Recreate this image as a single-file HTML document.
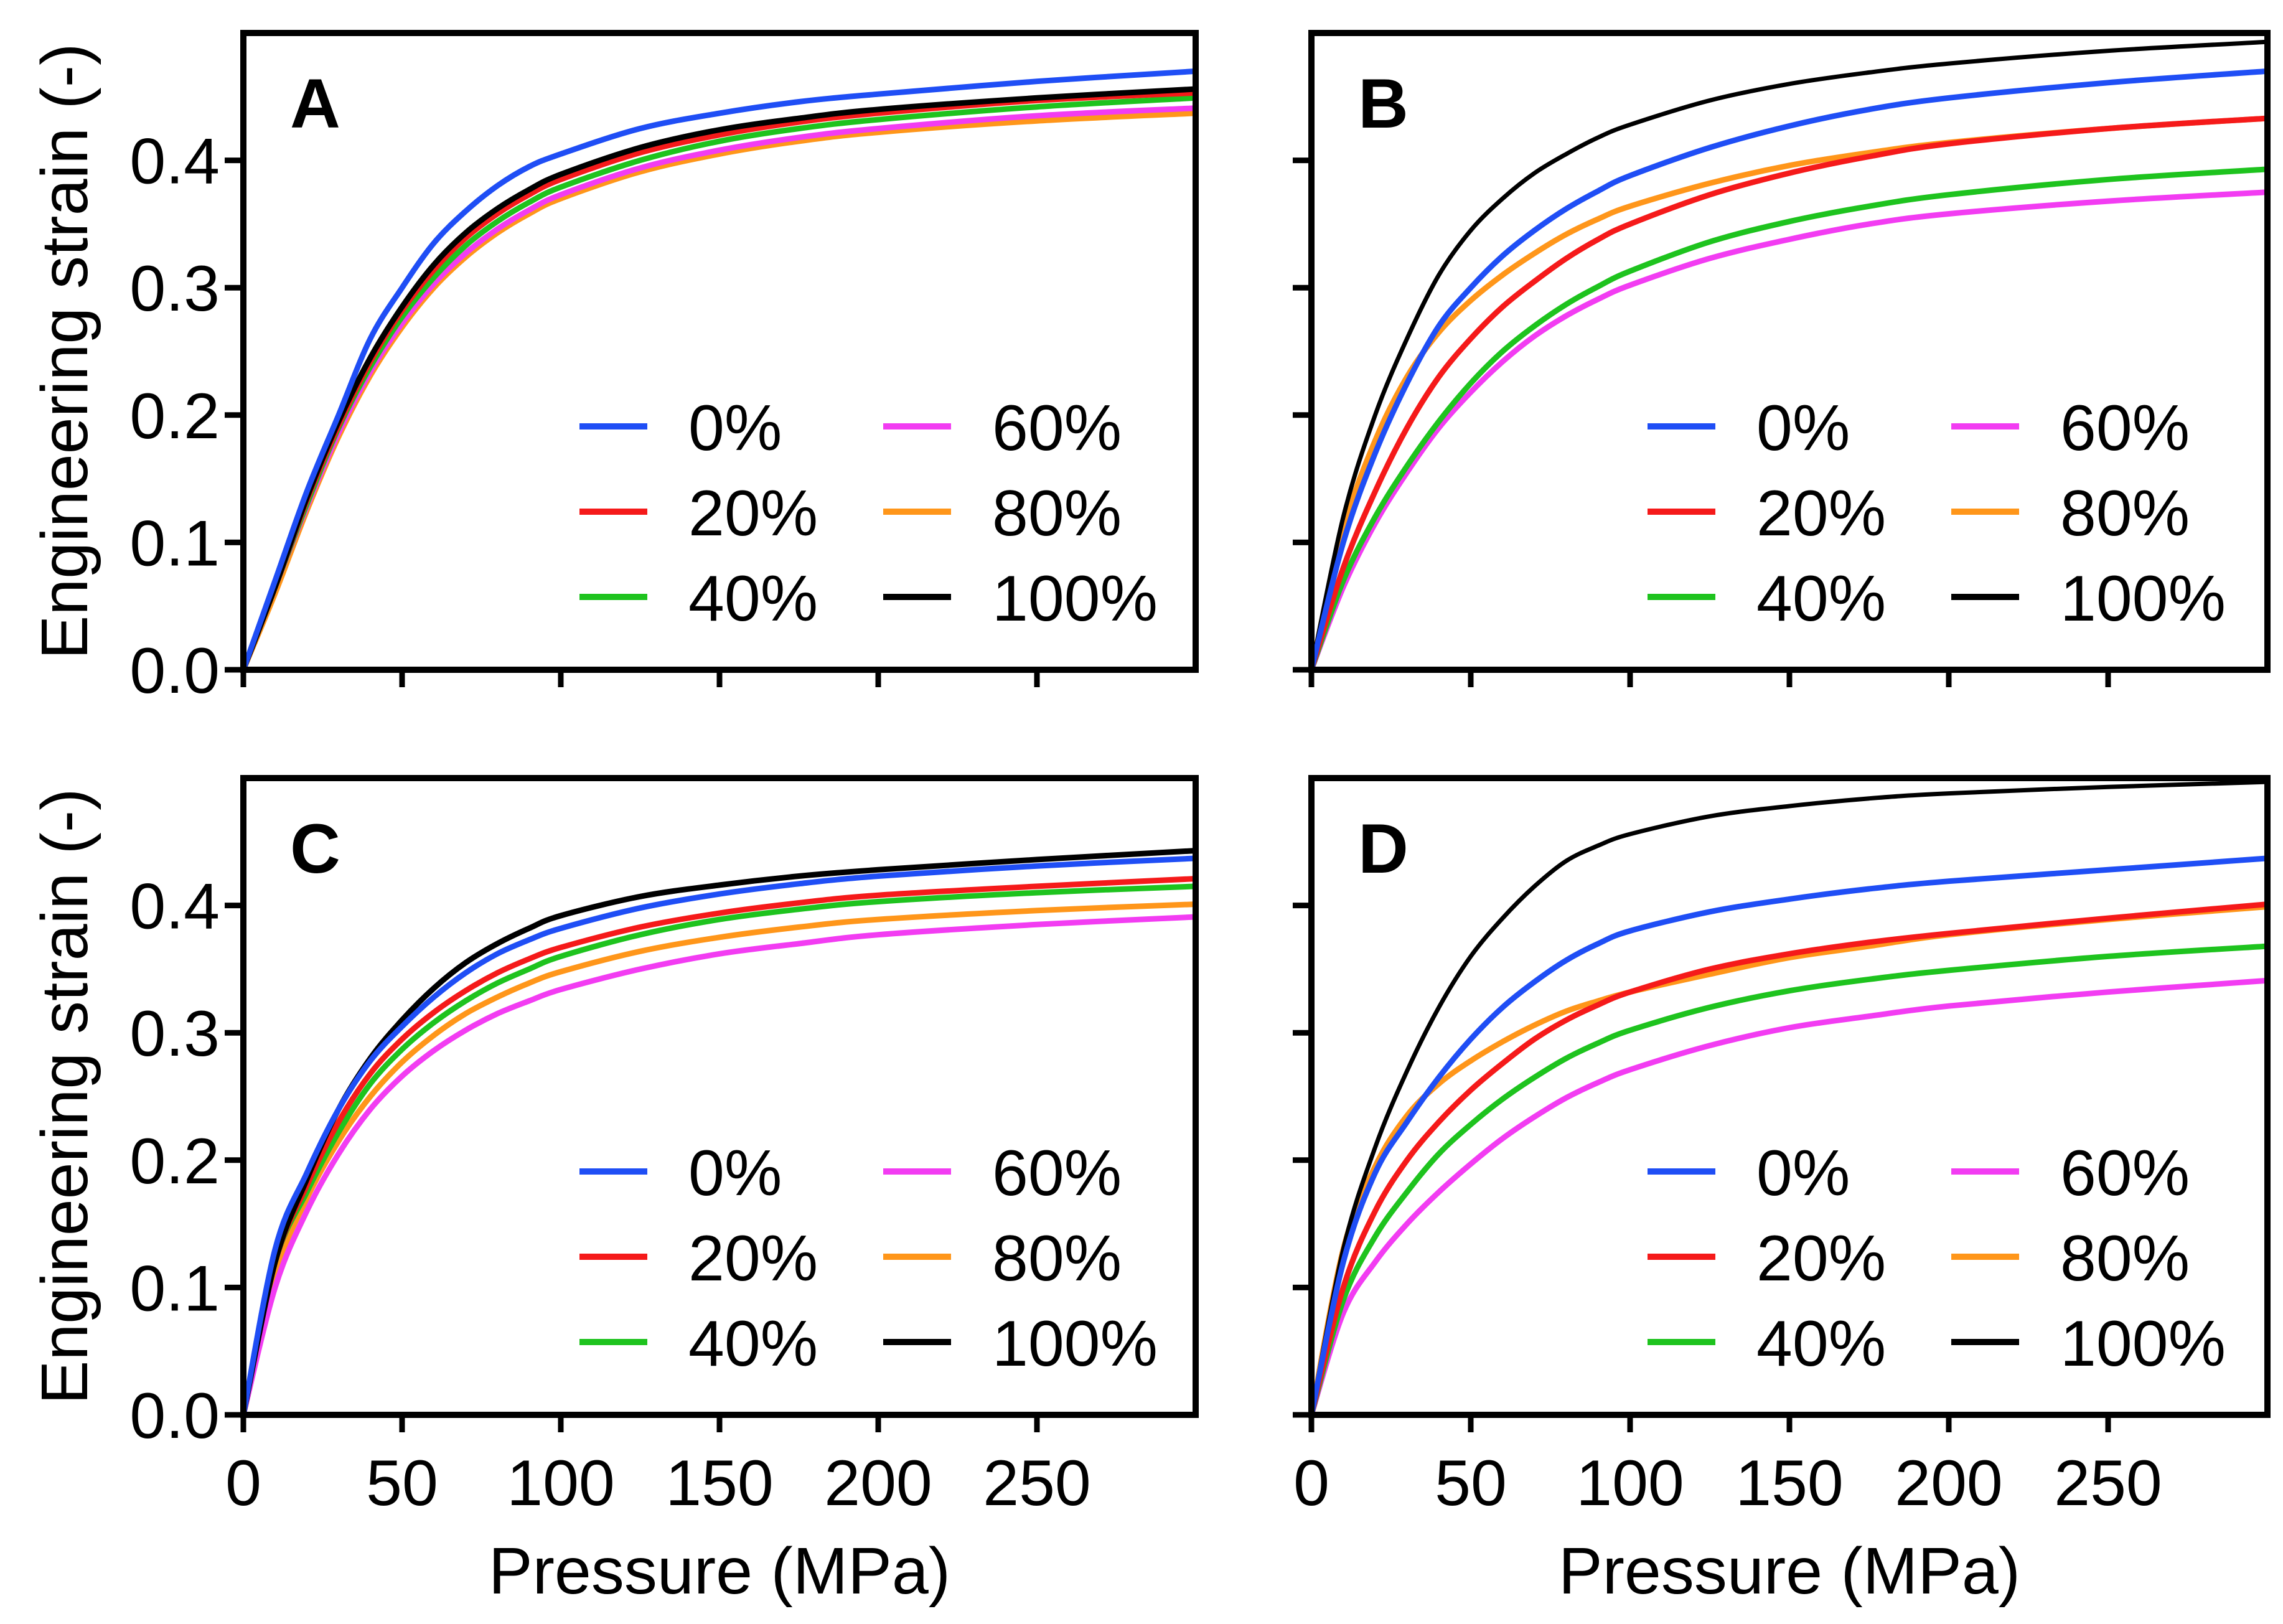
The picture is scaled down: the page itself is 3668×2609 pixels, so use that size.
<!DOCTYPE html>
<html><head><meta charset="utf-8">
<style>html,body{margin:0;padding:0;background:#fff}svg{display:block}</style>
</head><body>
<svg id="fig" width="3668" height="2609" xmlns="http://www.w3.org/2000/svg" font-family="Liberation Sans, Arial, sans-serif"></svg>
<script>
const pressures = [0,10,20,30,40,50,60,70,80,90,100,125,150,175,200,250,300];
const seriesNames = ['0%','20%','40%','60%','80%','100%'];
const seriesColors = ['#1f4ef5','#f51a1a','#1ec31e','#f23cf2','#ff961a','#000000'];
const xTicks = [0,50,100,150,200,250];
const yTicks = [0.0,0.1,0.2,0.3,0.4];
const yTickLabels = ['0.0','0.1','0.2','0.3','0.4'];
const panelLetters = ['A','B','C','D'];
// values per panel, order: 0%,20%,40%,60%,80%,100%
const panelA_0 = [0,.07,.14,.20,.26,.30,.335,.36,.38,.395,.405,.425,.437,.446,.452,.462,.470];
const panelA_20 = [0,.065,.133,.192,.242,.282,.314,.339,.358,.373,.385,.406,.420,.430,.437,.447,.453];
const panelA_40 = [0,.065,.13,.19,.238,.277,.308,.333,.352,.367,.379,.400,.415,.425,.432,.442,.449];
const panelA_60 = [0,.065,.128,.186,.234,.272,.303,.327,.346,.361,.373,.394,.408,.418,.425,.435,.441];
const panelA_80 = [0,.06,.125,.183,.231,.269,.300,.324,.343,.358,.370,.391,.405,.415,.422,.431,.437];
const panelA_100 = [0,.065,.135,.195,.245,.285,.318,.343,.362,.377,.389,.410,.424,.433,.440,.449,.456];
const panelB_0 = [0,.10,.17,.225,.27,.30,.325,.345,.362,.376,.388,.41,.427,.44,.449,.461,.470];
const panelB_20 = [0,.08,.14,.19,.23,.26,.285,.305,.323,.338,.350,.373,.390,.403,.413,.425,.433];
const panelB_40 = [0,.07,.12,.16,.195,.225,.25,.27,.287,.301,.313,.336,.352,.364,.373,.385,.393];
const panelB_60 = [0,.065,.115,.155,.19,.218,.242,.262,.278,.291,.302,.323,.338,.350,.358,.368,.375];
const panelB_80 = [0,.11,.18,.23,.265,.29,.31,.327,.342,.354,.364,.382,.396,.406,.414,.425,.433];
const panelB_100 = [0,.12,.2,.26,.31,.345,.37,.39,.405,.418,.428,.447,.46,.469,.476,.486,.493];
const panelC_0 = [0,.13,.19,.24,.278,.305,.328,.347,.362,.373,.382,.398,.409,.417,.423,.431,.437];
const panelC_20 = [0,.12,.18,.23,.268,.295,.316,.333,.347,.358,.367,.383,.394,.402,.408,.415,.421];
const panelC_40 = [0,.12,.175,.222,.26,.287,.308,.325,.339,.35,.36,.377,.389,.397,.403,.410,.415];
const panelC_60 = [0,.10,.16,.205,.24,.266,.286,.302,.315,.325,.334,.350,.362,.370,.377,.385,.391];
const panelC_80 = [0,.11,.17,.215,.25,.277,.298,.315,.328,.339,.348,.364,.375,.383,.389,.396,.401];
const panelC_100 = [0,.12,.185,.24,.28,.31,.335,.355,.37,.382,.392,.407,.416,.423,.428,.436,.443];
const panelD_0 = [0,.12,.19,.23,.265,.295,.32,.34,.357,.37,.38,.395,.405,.413,.419,.428,.437];
const panelD_20 = [0,.10,.16,.2,.23,.255,.276,.295,.31,.322,.332,.35,.362,.371,.378,.39,.401];
const panelD_40 = [0,.09,.14,.175,.205,.228,.248,.265,.28,.292,.302,.32,.333,.342,.349,.36,.368];
const panelD_60 = [0,.08,.12,.15,.175,.197,.217,.234,.249,.261,.271,.29,.304,.313,.321,.332,.341];
const panelD_80 = [0,.13,.195,.235,.26,.278,.293,.306,.317,.325,.332,.346,.359,.368,.377,.389,.399];
const panelD_100 = [0,.13,.21,.27,.32,.36,.39,.415,.435,.447,.456,.47,.478,.484,.488,.493,.497];

const panelData = [
  [panelA_0,panelA_20,panelA_40,panelA_60,panelA_80,panelA_100],
  [panelB_0,panelB_20,panelB_40,panelB_60,panelB_80,panelB_100],
  [panelC_0,panelC_20,panelC_40,panelC_60,panelC_80,panelC_100],
  [panelD_0,panelD_20,panelD_40,panelD_60,panelD_80,panelD_100]
];
const boxes = [
  {l:391,r:1921,t:53,b:1076,ylab:true,xlab:false},
  {l:2107,r:3643,t:53,b:1076,ylab:false,xlab:false},
  {l:391,r:1921,t:1250,b:2273,ylab:true,xlab:true},
  {l:2107,r:3643,t:1250,b:2273,ylab:false,xlab:true}
];
const NS='http://www.w3.org/2000/svg';
const svg=document.getElementById('fig');
function mk(tag,attrs,parent){const e=document.createElementNS(NS,tag);for(const k in attrs)e.setAttribute(k,attrs[k]);(parent||svg).appendChild(e);return e;}
function smoothPath(pts){
  let d='M'+pts[0][0].toFixed(1)+','+pts[0][1].toFixed(1);
  for(let i=0;i<pts.length-1;i++){
    const p0=pts[Math.max(0,i-1)],p1=pts[i],p2=pts[i+1],p3=pts[Math.min(pts.length-1,i+2)];
    const c1x=p1[0]+(p2[0]-p0[0])/6,c1y=p1[1]+(p2[1]-p0[1])/6;
    const c2x=p2[0]-(p3[0]-p1[0])/6,c2y=p2[1]-(p3[1]-p1[1])/6;
    d+='C'+c1x.toFixed(1)+','+c1y.toFixed(1)+' '+c2x.toFixed(1)+','+c2y.toFixed(1)+' '+p2[0].toFixed(1)+','+p2[1].toFixed(1);
  }
  return d;
}
const drawOrder=[4,3,2,1,5,0];
boxes.forEach((bx,pi)=>{
  const g=mk('g',{});
  
  
  const xs=v=>bx.l+(v/300)*(bx.r-bx.l);
  const ys=v=>bx.b-(v/0.5)*(bx.b-bx.t);
  const cp=mk('clipPath',{id:'cp'+pi},g);
  mk('rect',{x:bx.l,y:bx.t,width:bx.r-bx.l,height:bx.b-bx.t},cp);
  const lines=mk('g',{'clip-path':'url(#cp'+pi+')'},g);
  drawOrder.forEach(si=>{
    const vals=panelData[pi][si];
    const pts=vals.map((v,i)=>[xs(pressures[i]),ys(v)]);
    const p=mk('path',{d:smoothPath(pts),fill:'none',stroke:seriesColors[si],'stroke-width':si===5&&pi%2===1?7:9,'stroke-linejoin':'round'},lines);
    
    
  });
  const fr=mk('rect',{x:bx.l,y:bx.t,width:bx.r-bx.l,height:bx.b-bx.t,fill:'none',stroke:'#000','stroke-width':10},g);
  
  
  yTicks.forEach((v,i)=>{
    mk('line',{x1:bx.l-30,x2:bx.l,y1:ys(v),y2:ys(v),stroke:'#000','stroke-width':9},g);
    if(bx.ylab){const t=mk('text',{x:bx.l-38,y:ys(v)+37,'text-anchor':'end','font-size':104},g);t.textContent=yTickLabels[i];
      
      }
  });
  xTicks.forEach(v=>{
    mk('line',{x1:xs(v),x2:xs(v),y1:bx.b,y2:bx.b+28,stroke:'#000','stroke-width':9},g);
    if(bx.xlab){const t=mk('text',{x:xs(v),y:bx.b+145,'text-anchor':'middle','font-size':104},g);t.textContent=String(v);
      
      }
  });
  const L=mk('text',{x:bx.l+75,y:bx.t+152,'font-size':112,'font-weight':'bold'},g);
  L.textContent=panelLetters[pi];
  
  
  const leg=mk('g',{},g);
  
  
  const rowsY=[bx.t+632,bx.t+769,bx.t+906];
  seriesNames.forEach((nm,si)=>{
    const col=Math.floor(si/3),row=si%3;
    const lx=bx.l+540+col*488;
    mk('line',{x1:lx,x2:lx+109,y1:rowsY[row],y2:rowsY[row],stroke:seriesColors[si],'stroke-width':10},leg);
    const t=mk('text',{x:lx+175,y:rowsY[row]+38,'font-size':104},leg);
    t.textContent=nm;
    
    
  });
  if(bx.ylab){
    const cy=(bx.t+bx.b)/2;
    const t=mk('text',{x:0,y:0,transform:'translate(140,'+cy+') rotate(-90)','text-anchor':'middle','font-size':106},g);
    t.textContent='Engineering strain (-)';
    
    
  }
  if(bx.xlab){
    const t=mk('text',{x:(bx.l+bx.r)/2,y:2560,'text-anchor':'middle','font-size':106},g);
    t.textContent='Pressure (MPa)';
    
    
  }
});
</script>
</body></html>
